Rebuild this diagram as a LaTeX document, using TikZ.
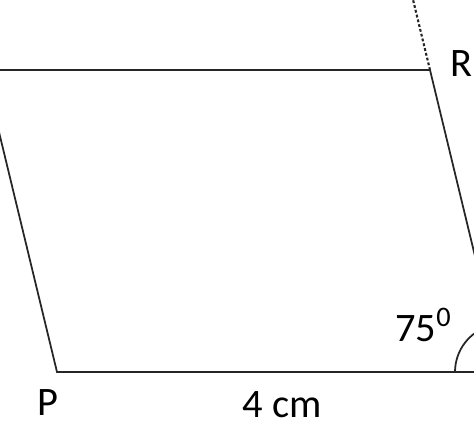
\documentclass[tikz,border=0pt]{standalone}
\usepackage{fontspec}
\setmainfont{Carlito}
\usetikzlibrary{calc,positioning}

\begin{document}
\begin{tikzpicture}
    \tikzstyle{side} = [line width=1pt, draw=black!85]
    \tikzstyle{lbl} = [inner sep=0pt, font=\fontsize{23}{26}\selectfont]

    \clip (0,0) rectangle (9.48,8.84);

    % corners of the parallelogram (S and Q lie outside the frame)
    \coordinate (P) at (1.14,1.40);
    \coordinate (Q) at (10.06,1.40);
    \coordinate (R) at (8.60,7.44);
    \coordinate (S) at (-0.32,7.44);
    \coordinate (Rx) at ($(Q)!1.3!(R)$);

    \draw[side] (S) -- (P) -- (Q) -- (R) -- (S);
    \draw[side, line width=1.2pt, dash pattern=on 1.6pt off 1.2pt] (R) -- (Rx);
    \draw[side] (Q) ++(180:0.96) arc[start angle=180, end angle=105, radius=0.96];

    \node[lbl] (lP) at (0.96,0.78) {P};
    \node[lbl, anchor=east] (lR) at (9.46,7.56) {R};
    \node[lbl] (lPQ) at (5.64,0.74) {4 cm};
    \node[lbl, anchor=base west] (lang) at (7.90,2.00) {75\textsuperscript{0}};
\end{tikzpicture}
\end{document}
